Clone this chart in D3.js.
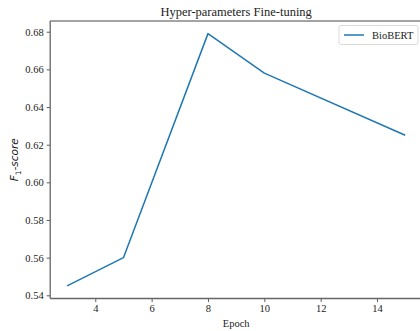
<!DOCTYPE html>
<html>
<head>
<meta charset="utf-8">
<script src="https://cdn.jsdelivr.net/npm/d3@7"></script>
<style>
  body { margin: 0; background: #fff; }
  svg text { font-family: "Liberation Serif", "Times New Roman", serif; fill: #222; }
</style>
</head>
<body>
<div id="chart"></div>
<script>
// values
let epochs = [3, 5, 8, 10, 15];
let f1Scores = [0.545, 0.560, 0.679, 0.658, 0.625];
let xTicks = [4, 6, 8, 10, 12, 14];
let yTicks = [0.54, 0.56, 0.58, 0.60, 0.62, 0.64, 0.66, 0.68];
let seriesName = "BioBERT";

let width = 420, height = 331;
let svg = d3.select("#chart").append("svg")
    .attr("width", width)
    .attr("height", height);

// axes box (right edge falls just outside the picture, like the original)
let axLeft = 50.2, axRight = 422.1, axTop = 21, axBottom = 298.5;

// matplotlib style 5% padding around the data
let xPad = (d3.max(epochs) - d3.min(epochs)) * 0.05;
let yPad = (d3.max(f1Scores) - d3.min(f1Scores)) * 0.05;
let x = d3.scaleLinear()
    .domain([d3.min(epochs) - xPad, d3.max(epochs) + xPad])
    .range([axLeft, axRight]);
let y = d3.scaleLinear()
    .domain([d3.min(f1Scores) - yPad, d3.max(f1Scores) + yPad])
    .range([axBottom, axTop]);

// x axis
let xAxis = svg.append("g")
    .attr("transform", "translate(0," + axBottom + ")")
    .call(d3.axisBottom(x).tickValues(xTicks).tickSize(3.5).tickPadding(3).tickFormat(d3.format("d")));
xAxis.select(".domain").remove();
xAxis.selectAll("line").attr("stroke", "#333").attr("stroke-width", 0.8);
xAxis.selectAll("text").attr("font-size", 10.5).style("font-family", "'Liberation Serif', serif").style("fill", "#222");

// y axis
let yAxis = svg.append("g")
    .attr("transform", "translate(" + axLeft + ",0)")
    .call(d3.axisLeft(y).tickValues(yTicks).tickSize(3.5).tickPadding(3).tickFormat(d3.format(".2f")));
yAxis.select(".domain").remove();
yAxis.selectAll("line").attr("stroke", "#333").attr("stroke-width", 0.8);
yAxis.selectAll("text").attr("font-size", 10.5).style("font-family", "'Liberation Serif', serif").style("fill", "#222");

// spines
svg.append("line").attr("x1", axLeft).attr("x2", axRight).attr("y1", axTop).attr("y2", axTop)
    .attr("stroke", "#333").attr("stroke-width", 0.9);
svg.append("line").attr("x1", axLeft).attr("x2", axLeft).attr("y1", axTop).attr("y2", axBottom)
    .attr("stroke", "#666").attr("stroke-width", 1.3);
svg.append("line").attr("x1", axLeft).attr("x2", axRight).attr("y1", axBottom).attr("y2", axBottom)
    .attr("stroke", "#666").attr("stroke-width", 1.3);

// the series line
let line = d3.line()
    .x((d, i) => x(epochs[i]))
    .y(d => y(d));
svg.append("path")
    .datum(f1Scores)
    .attr("d", line)
    .attr("fill", "none")
    .attr("stroke", "#1f77b4")
    .attr("stroke-width", 1.5)
    .attr("stroke-linejoin", "round");

// title and axis labels
svg.append("text")
    .attr("x", (axLeft + axRight) / 2)
    .attr("y", 16)
    .attr("text-anchor", "middle")
    .attr("font-size", 12.5)
    .text("Hyper-parameters Fine-tuning");

svg.append("text")
    .attr("x", (axLeft + axRight) / 2)
    .attr("y", 327)
    .attr("text-anchor", "middle")
    .attr("font-size", 10.5)
    .text("Epoch");

let ylab = svg.append("text")
    .attr("transform", "translate(18," + ((axTop + axBottom) / 2) + ") rotate(-90)")
    .attr("text-anchor", "middle")
    .style("font-family", "DejaVu Sans")
    .style("font-style", "italic")
    .attr("font-size", 10.5);
ylab.append("tspan").text("F");
ylab.append("tspan").attr("font-size", 7.5).attr("dy", 2.5).style("font-style", "normal").text("1");
ylab.append("tspan").attr("dy", -2.5).text("-score");

// legend
let legend = svg.append("g").attr("transform", "translate(339,25.5)");
legend.append("rect")
    .attr("width", 79).attr("height", 19).attr("rx", 2)
    .attr("fill", "#fff").attr("stroke", "#d0d0d0").attr("stroke-width", 0.8);
legend.append("line")
    .attr("x1", 5).attr("x2", 25).attr("y1", 9.5).attr("y2", 9.5)
    .attr("stroke", "#1f77b4").attr("stroke-width", 1.5);
legend.append("text")
    .attr("x", 33).attr("y", 13.5)
    .attr("font-size", 10.5)
    .text(seriesName);
</script>
</body>
</html>
